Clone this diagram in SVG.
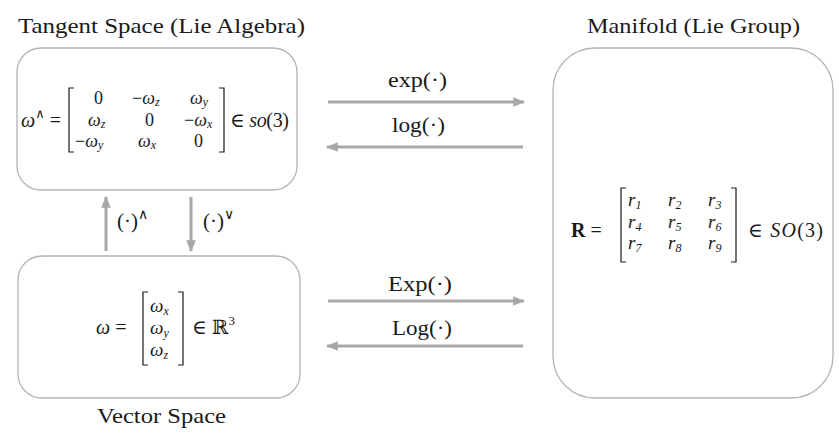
<svg xmlns="http://www.w3.org/2000/svg" width="839" height="438" viewBox="0 0 839 438">
<style>
.box{fill:#fff;stroke:#b4b4b4;stroke-width:1.3}
.t{font-family:"Liberation Serif","DejaVu Serif",serif;fill:#1a1a1a}
.title{font-size:21px}
.m{font-size:20px}
.l{font-size:21px}
.e{font-size:19px}
.e2{font-size:18px}
.i{font-style:italic}
.sub{font-size:12px;font-style:italic}
.br{fill:none;stroke:#1a1a1a;stroke-width:1.2}
.ar{stroke:#a8a8a8;stroke-width:3;fill:none}
</style>
<defs>
<marker id="ah" viewBox="0 0 10 10" refX="9" refY="5" markerWidth="4" markerHeight="4" orient="auto" markerUnits="strokeWidth">
<path d="M0,1 L10,5 L0,9 Z" fill="#a8a8a8"/>
</marker>
</defs>

<text class="t title" x="18" y="33" textLength="287" lengthAdjust="spacingAndGlyphs">Tangent Space (Lie Algebra)</text>
<text class="t title" x="587" y="33" textLength="213" lengthAdjust="spacingAndGlyphs">Manifold (Lie Group)</text>
<text class="t title" x="97" y="423" textLength="129" lengthAdjust="spacingAndGlyphs">Vector Space</text>

<g id="tangent">
<rect class="box" x="17" y="48" width="280" height="142" rx="24"/>
<text class="t m" x="21" y="127"><tspan class="i">ω</tspan><tspan font-size="13" dy="-9">∧</tspan><tspan dy="9"> =</tspan></text>
<path class="br" d="M74,88 H69 V152 H74"/>
<path class="br" d="M219,88 H224 V152 H219"/>
<text class="t e2" x="94" y="104">0</text>
<text class="t e2" x="132" y="104">−<tspan class="i">ω</tspan><tspan class="sub" dy="2">z</tspan></text>
<text class="t e2" x="190" y="104"><tspan class="i">ω</tspan><tspan class="sub" dy="2">y</tspan></text>
<text class="t e2" x="88" y="126"><tspan class="i">ω</tspan><tspan class="sub" dy="2">z</tspan></text>
<text class="t e2" x="145" y="126">0</text>
<text class="t e2" x="184" y="126">−<tspan class="i">ω</tspan><tspan class="sub" dy="2">x</tspan></text>
<text class="t e2" x="75" y="147">−<tspan class="i">ω</tspan><tspan class="sub" dy="2">y</tspan></text>
<text class="t e2" x="138" y="147"><tspan class="i">ω</tspan><tspan class="sub" dy="2">x</tspan></text>
<text class="t e2" x="194" y="147">0</text>
<text class="t m" x="230" y="127" textLength="59">∈ <tspan class="i">so</tspan>(3)</text>
</g>

<g id="vector">
<rect class="box" x="18" y="256" width="282" height="142" rx="24"/>
<text class="t m" x="96" y="334"><tspan class="i">ω</tspan> =</text>
<path class="br" d="M148,292 H143 V365 H148"/>
<path class="br" d="M178,292 H183 V365 H178"/>
<text class="t e" x="150" y="312"><tspan class="i">ω</tspan><tspan class="sub" dy="3">x</tspan></text>
<text class="t e" x="150" y="334"><tspan class="i">ω</tspan><tspan class="sub" dy="3">y</tspan></text>
<text class="t e" x="150" y="356"><tspan class="i">ω</tspan><tspan class="sub" dy="3">z</tspan></text>
<text class="t m" x="192" y="334">∈ <tspan font-family="DejaVu Serif">ℝ</tspan><tspan font-size="13" dy="-9">3</tspan></text>
</g>

<g id="manifold">
<rect class="box" x="553" y="48" width="280" height="350" rx="42"/>
<text class="t m" x="571" y="237"><tspan font-weight="bold">R</tspan> =</text>
<path class="br" d="M626,188 H621 V262 H626"/>
<path class="br" d="M731,188 H736 V262 H731"/>
<text class="t e i" x="628" y="206">r<tspan class="sub" dy="3">1</tspan></text>
<text class="t e i" x="668" y="206">r<tspan class="sub" dy="3">2</tspan></text>
<text class="t e i" x="708" y="206">r<tspan class="sub" dy="3">3</tspan></text>
<text class="t e i" x="628" y="228">r<tspan class="sub" dy="3">4</tspan></text>
<text class="t e i" x="668" y="228">r<tspan class="sub" dy="3">5</tspan></text>
<text class="t e i" x="708" y="228">r<tspan class="sub" dy="3">6</tspan></text>
<text class="t e i" x="628" y="249">r<tspan class="sub" dy="3">7</tspan></text>
<text class="t e i" x="668" y="249">r<tspan class="sub" dy="3">8</tspan></text>
<text class="t e i" x="708" y="249">r<tspan class="sub" dy="3">9</tspan></text>
<text class="t m" x="748" y="237" textLength="75">∈ <tspan class="i">SO</tspan>(3)</text>
</g>

<g id="connectors">
<line class="ar" x1="328" y1="102" x2="524" y2="102" marker-end="url(#ah)"/>
<line class="ar" x1="523" y1="147" x2="327" y2="147" marker-end="url(#ah)"/>
<line class="ar" x1="328" y1="301" x2="524" y2="301" marker-end="url(#ah)"/>
<line class="ar" x1="523" y1="346" x2="327" y2="346" marker-end="url(#ah)"/>
<line class="ar" x1="106" y1="251" x2="106" y2="197" marker-end="url(#ah)"/>
<line class="ar" x1="191" y1="197" x2="191" y2="251" marker-end="url(#ah)"/>
<text class="t l" x="388" y="87" textLength="59" lengthAdjust="spacingAndGlyphs">exp(·)</text>
<text class="t l" x="392" y="132" textLength="53" lengthAdjust="spacingAndGlyphs">log(·)</text>
<text class="t l" x="388" y="291" textLength="64" lengthAdjust="spacingAndGlyphs">Exp(·)</text>
<text class="t l" x="392" y="335" textLength="60" lengthAdjust="spacingAndGlyphs">Log(·)</text>
<text class="t l" x="117" y="228">(·)<tspan font-size="14" dy="-9">∧</tspan></text>
<text class="t l" x="203" y="228">(·)<tspan font-size="14" dy="-9">∨</tspan></text>
</g>
</svg>
